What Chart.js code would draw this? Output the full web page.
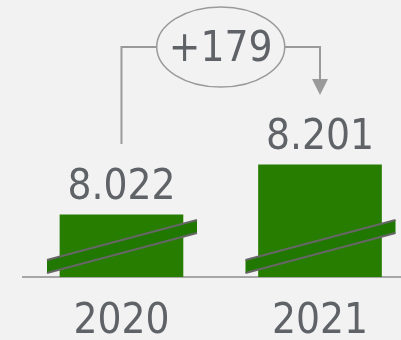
<!DOCTYPE html>
<html>
<head>
<meta charset="utf-8">
<script src="https://cdn.jsdelivr.net/npm/chart.js@4"></script>
<style>
  html, body { margin: 0; padding: 0; background: #f2f2f2; }
  .chart-container { width: 401px; height: 340px; }
</style>
</head>
<body>
<div class="chart-container">
  <canvas id="myBarChart"></canvas>
</div>
<script>
const categories = ["2020", "2021"];
const values = [8.022, 8.201];
const valueLabels = ["8.022", "8.201"];

const FONT = "'DejaVu Sans Condensed', 'DejaVu Sans', sans-serif";
const TEXT_COLOR = "#5f6368";
const LINE_COLOR = "#9a9a9a";

// draws the axis break slashes, value labels and the difference bubble
const annotations = {
    id: "annotations",
    afterDatasetsDraw(chart) {
        const ctx = chart.ctx;
        const bars = chart.getDatasetMeta(0).data;
        const base = chart.scales.y.getPixelForValue(chart.scales.y.min);

        ctx.save();

        // break slashes
        bars.forEach(bar => {
            const l = bar.x - 74.5, r = bar.x + 75.5;
            ctx.beginPath();
            ctx.moveTo(l, base - 17);
            ctx.lineTo(r, base - 57);
            ctx.lineTo(r, base - 44);
            ctx.lineTo(l, base - 4);
            ctx.closePath();
            ctx.fillStyle = "#207800";
            ctx.fill();
            ctx.strokeStyle = "#666";
            ctx.lineWidth = 2;
            ctx.beginPath();
            ctx.moveTo(l, base - 17);
            ctx.lineTo(r, base - 57);
            ctx.moveTo(l, base - 4);
            ctx.lineTo(r, base - 44);
            ctx.stroke();
        });

        // value labels
        ctx.font = "42px " + FONT;
        ctx.fillStyle = TEXT_COLOR;
        ctx.textAlign = "center";
        ctx.textBaseline = "middle";
        bars.forEach((bar, i) => {
            ctx.fillText(valueLabels[i], bar.x, bar.y - 27);
        });

        // difference bubble
        const x1 = bars[0].x, x2 = bars[1].x;
        const cx = (x1 + x2) / 2, cy = 47;
        const rx = 64, ry = 40;
        ctx.strokeStyle = LINE_COLOR;
        ctx.lineWidth = 2;
        ctx.beginPath();
        ctx.moveTo(cx - rx, cy);
        ctx.lineTo(x1, cy);
        ctx.lineTo(x1, 144);
        ctx.moveTo(cx + rx, cy);
        ctx.lineTo(x2, cy);
        ctx.lineTo(x2, 80);
        ctx.stroke();

        ctx.fillStyle = LINE_COLOR;
        ctx.beginPath();
        ctx.moveTo(x2 - 8, 79);
        ctx.lineTo(x2 + 8, 79);
        ctx.lineTo(x2, 95);
        ctx.closePath();
        ctx.fill();

        ctx.lineWidth = 1.5;
        ctx.beginPath();
        ctx.ellipse(cx, cy, rx, ry, 0, 0, Math.PI * 2);
        ctx.stroke();

        const diff = Math.round((values[1] - values[0]) * 1000);
        ctx.fillStyle = TEXT_COLOR;
        ctx.fillText("+" + diff, cx, cy + 3);

        ctx.restore();
    }
};

const myBarChart = new Chart(document.getElementById("myBarChart"), {
    type: "bar",
    data: {
        datasets: [{
            data: values.map((v, i) => ({ x: i, y: v })),
            backgroundColor: "#267d00",
            borderWidth: 0,
            barThickness: 123
        }]
    },
    options: {
        responsive: true,
        maintainAspectRatio: false,
        animation: false,
        layout: { padding: { top: 109, left: 23, right: 0, bottom: 0 } },
        plugins: {
            legend: { display: false },
            tooltip: { enabled: false }
        },
        scales: {
            x: {
                type: "linear",
                offset: false,
                min: -0.496,
                max: 1.408,
                afterBuildTicks: scale => {
                    scale.ticks = categories.map((c, i) => ({ value: i }));
                },
                afterFit: scale => {
                    scale.height = 63;
                },
                ticks: {
                    callback: v => categories[v],
                    color: TEXT_COLOR,
                    padding: 12,
                    maxRotation: 0,
                    font: { family: FONT, size: 42, lineHeight: 1.2 }
                },
                grid: { display: false },
                border: { display: true, color: "#a6a6a6", width: 2 }
            },
            y: {
                display: false,
                min: 7.8,
                max: 8.4
            }
        }
    },
    plugins: [annotations]
});
</script>
</body>
</html>
